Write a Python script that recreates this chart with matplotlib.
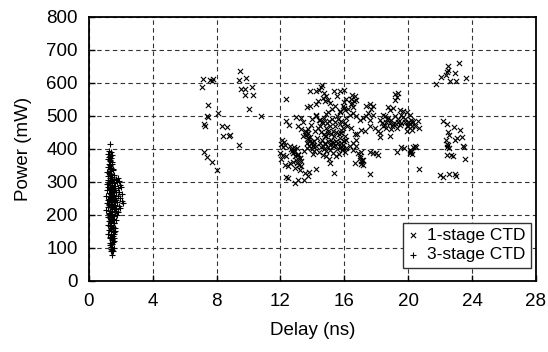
import matplotlib
matplotlib.use("Agg")
import matplotlib.pyplot as plt

# ==============================
# DATA
# ==============================

# 1-stage CTD : delay (ns), power (mW)
one_stage_x = [
    7.15, 7.10, 7.60, 7.70, 7.75, 7.46, 7.42, 7.46, 7.20, 7.27, 8.10, 7.20, 7.40, 7.73, 8.02,
    8.36, 8.67, 8.40, 8.78, 8.86, 9.42, 9.44, 9.40, 9.82, 9.55, 9.80, 10.20, 9.78, 10.28, 10.05,
    10.76,
    21.77, 22.04, 22.36, 22.50, 22.50, 22.46, 22.60, 22.96, 23.19, 23.02, 23.59,
    22.19, 22.46, 22.86, 22.50, 22.57, 23.23, 23.07, 23.40, 22.34, 22.40, 22.46, 22.50, 22.55,
    22.94, 23.44, 23.48, 22.40, 22.67, 22.82, 23.55, 21.98, 22.19, 22.57, 22.92, 23.02,
    12.33, 12.33, 12.54, 12.10, 12.20, 12.06, 12.29, 12.16, 12.00, 12.16, 12.37, 12.06,
    12.27, 12.58, 12.79, 12.50, 12.37, 12.45, 12.93, 13.10, 13.48, 13.77, 13.75,
    12.79, 13.08, 13.20, 13.04, 13.31, 13.20, 13.52, 12.89, 12.85, 13.06,
    14.20, 15.34, 17.60, 20.68,
    14.60, 14.54, 14.41, 14.25, 13.83, 14.73, 14.88, 14.98, 14.79, 14.67, 15.09,
    15.34, 15.71, 15.98, 15.52, 14.33, 14.25, 13.66, 13.83, 14.99, 14.88,
    14.25, 14.00, 14.20, 14.46, 13.00, 13.31, 13.41,
    13.10, 13.31, 13.52, 13.62, 13.73, 13.87, 13.41, 13.66,
    14.04, 14.25, 14.56, 14.71, 14.88, 15.09, 15.30, 15.61,
    14.46, 14.67, 14.88, 15.13, 15.30, 14.98, 14.77,
    15.44, 15.71, 15.92, 15.82, 16.03, 16.13, 15.71, 15.50,
    15.92, 16.13, 16.34, 16.55, 16.76, 16.65,
    14.88, 15.04, 15.13, 14.67, 14.39, 14.04,
    15.92, 16.03, 15.71, 16.34, 16.13, 16.55,
    16.51, 16.65, 16.40, 16.71, 16.51, 16.55, 16.13, 15.98, 16.82,
    16.86, 17.07, 16.97, 16.65, 17.07, 17.17,
    16.76, 16.97, 17.17, 17.38, 17.59, 17.80, 17.49,
    17.38, 17.59, 17.80, 17.70,
    17.59, 17.90, 18.11, 17.97, 18.11, 17.80, 17.59, 17.07, 17.28,
    18.22, 18.43, 18.53, 18.64, 18.85, 18.74, 18.95, 19.06,
    18.22, 18.26, 18.85, 18.43, 18.60,
    18.74, 18.85, 19.06, 19.16, 19.37, 19.27, 19.16,
    19.48, 19.69, 19.90, 20.10, 20.20, 19.98, 19.77, 19.56, 19.37, 19.69,
    19.27, 19.48, 19.90, 20.10, 20.31, 20.23, 20.27, 19.90,
    20.62, 20.68,
    19.58, 19.73, 19.31, 20.10, 20.20, 20.31, 20.41, 20.52, 20.14, 20.27,
    15.50, 15.30, 15.67, 14.67, 14.77, 14.98, 15.19, 15.30, 15.92, 16.03, 15.82,
    16.55, 16.76, 16.97, 17.10, 17.05, 17.20,
    12.65, 12.85, 13.10, 13.22, 13.30, 13.15, 12.85,
    13.70, 13.58, 13.85, 13.70, 13.95, 14.05,
    # denser core of the main cloud
    14.10, 14.30, 14.50, 14.62, 14.80, 14.95, 15.10, 15.22, 15.40, 15.55, 15.75, 15.88,
    14.15, 14.35, 14.55, 14.70, 14.85, 15.00, 15.18, 15.35, 15.48, 15.65, 15.80, 16.00,
    14.40, 14.58, 14.75, 14.92, 15.05, 15.25, 15.42, 15.60, 15.78, 16.05, 16.20, 16.40,
    13.50, 13.65, 13.80, 13.95, 14.10, 13.60, 13.75, 13.90, 12.70, 12.90, 13.00, 12.60,
    15.20, 15.40, 15.55, 15.75, 15.95, 16.25, 16.45, 16.60, 18.35, 18.55, 18.70, 19.00,
    19.15, 19.35, 19.55, 19.80, 20.00, 20.25, 20.40, 20.15, 18.90, 19.25,
]
one_stage_y = [
    613, 587, 610, 606, 612, 534, 501, 498, 476, 470, 508, 390, 376, 360, 337,
    468, 465, 440, 438, 443, 412, 635, 608, 616, 581, 581, 587, 564, 562, 521,
    501,
    597, 617, 623, 640, 652, 632, 606, 630, 660, 607, 614,
    486, 476, 465, 450, 443, 456, 434, 437, 428, 416, 407, 411, 402,
    428, 410, 407, 380, 382, 379, 370, 320, 316, 323, 325, 319,
    551, 486, 473, 428, 422, 416, 411, 406, 387, 382, 377, 369,
    352, 357, 361, 347, 314, 313, 298, 306, 306, 329, 317,
    387, 385, 372, 357, 347, 337, 326, 341, 407, 402,
    339, 327, 324, 339,
    595, 587, 579, 574, 575, 569, 559, 549, 544, 554, 539,
    574, 575, 579, 559, 546, 537, 526, 531, 512, 507,
    504, 491, 499, 488, 496, 493, 483,
    468, 460, 453, 443, 433, 423, 438, 418,
    410, 408, 406, 400, 393, 398, 408, 418,
    468, 478, 463, 470, 453, 448, 440,
    468, 475, 463, 448, 438, 428, 433, 423,
    411, 403, 408, 418, 428, 444,
    377, 369, 357, 382, 392, 384,
    529, 519, 511, 504, 494, 509,
    564, 559, 551, 549, 539, 527, 551, 541, 444,
    387, 392, 377, 357, 362, 365,
    499, 488, 494, 499, 487, 504, 509,
    529, 537, 529, 521,
    468, 463, 453, 387, 382, 389, 392, 458, 453,
    488, 504, 499, 483, 478, 493, 488, 476,
    448, 436, 438, 468, 463,
    527, 519, 524, 566, 569, 556, 549,
    519, 514, 511, 504, 488, 483, 483, 478, 483, 496,
    463, 473, 468, 476, 480, 468, 458, 453,
    486, 463,
    407, 402, 390, 397, 392, 407, 410, 407, 387, 385,
    377, 387, 385, 410, 418, 423, 428, 418, 402, 392, 418,
    397, 408, 372, 365, 355, 351,
    400, 396, 380, 372, 362, 352, 392,
    448, 442, 435, 428, 420, 412,
    425, 432, 418, 428, 415, 405, 413, 422, 412, 400, 405, 398,
    455, 462, 450, 445, 440, 455, 446, 440, 452, 444, 458, 423,
    488, 482, 495, 478, 485, 490, 480, 492, 486, 478, 470, 462,
    395, 402, 410, 400, 395, 450, 460, 472, 395, 378, 365, 410,
    520, 530, 500, 515, 525, 520, 535, 545, 478, 472, 490, 470,
    500, 490, 502, 490, 470, 485, 470, 395, 460, 475,
]

# 3-stage CTD : delay (ns), power (mW)
three_stage_x = [
    1.31, 1.25, 1.38, 1.22, 1.45, 1.30, 1.40, 1.18, 1.33, 1.48, 1.25, 1.36, 1.20, 1.42, 1.30,
    1.52, 1.15, 1.27, 1.38, 1.60, 1.22, 1.45, 1.33, 1.68, 1.80, 1.18, 1.55, 1.40, 1.26, 1.75,
    1.90, 1.12, 1.48, 1.35, 1.62, 1.95, 1.22, 1.42, 1.55, 1.85, 2.02, 1.15, 1.30, 1.50, 1.70,
    1.92, 1.25, 1.40, 1.60, 1.80, 2.10, 1.10, 1.33, 1.48, 1.65, 1.98, 1.20, 1.38, 1.55, 1.75,
    2.05, 1.15, 1.28, 1.45, 1.62, 1.88, 2.15, 1.22, 1.40, 1.55, 1.72, 1.95, 1.10, 1.33, 1.48,
    1.65, 1.85, 1.25, 1.40, 1.58, 1.78, 1.18, 1.35, 1.50, 1.68, 1.28, 1.42, 1.58, 1.20, 1.35,
    1.50, 1.65, 1.28, 1.42, 1.55, 1.22, 1.38, 1.50, 1.30, 1.45, 1.58, 1.35, 1.48, 1.40, 1.55,
    1.45, 1.38, 1.44, 1.60, 1.62,
    # denser core
    1.28, 1.36, 1.44, 1.52, 1.32, 1.40, 1.48, 1.56, 1.30, 1.38, 1.46, 1.54, 1.64, 1.34, 1.42,
    1.50, 1.58, 1.70, 1.26, 1.36, 1.46, 1.56, 1.68, 1.30, 1.40, 1.50, 1.60, 1.34, 1.44, 1.54,
    1.32, 1.42, 1.52, 1.36, 1.46, 1.40, 1.50, 1.24, 1.34, 1.44, 1.28, 1.38, 1.48, 1.32, 1.42,
]
three_stage_y = [
    414, 395, 392, 385, 383, 378, 372, 368, 365, 360, 355, 350, 345, 342, 338,
    335, 330, 327, 325, 322, 318, 315, 312, 310, 312, 306, 305, 302, 298, 300,
    302, 294, 292, 290, 288, 290, 285, 282, 280, 282, 284, 276, 274, 272, 270,
    268, 265, 262, 260, 258, 262, 256, 254, 252, 250, 250, 246, 243, 241, 240,
    242, 236, 234, 232, 230, 228, 235, 225, 223, 220, 218, 222, 215, 213, 210,
    208, 210, 204, 201, 198, 200, 194, 191, 188, 186, 180, 177, 175, 170, 166,
    163, 160, 155, 151, 148, 143, 140, 136, 130, 126, 122, 116, 112, 104, 100,
    95, 90, 78, 130, 150,
    375, 362, 355, 340, 332, 320, 310, 296, 286, 278, 268, 258, 276, 248, 238,
    228, 218, 246, 206, 196, 186, 176, 212, 168, 158, 150, 142, 134, 124, 118,
    108, 98, 92, 300, 286, 264, 250, 230, 212, 196, 248, 226, 204, 180, 160,
]

x_ticks = [0, 4, 8, 12, 16, 20, 24, 28]
y_ticks = [0, 100, 200, 300, 400, 500, 600, 700, 800]


# ==============================
# PLOT
# ==============================

plt.rcParams["font.family"] = ["Liberation Sans", "DejaVu Sans"]

fig = plt.figure(figsize=(5.48, 3.52), dpi=100)
ax = fig.add_axes([0.162, 0.202, 0.816, 0.750])

ax.scatter(one_stage_x, one_stage_y, marker="x", s=14, c="black",
           linewidths=0.8, label="1-stage CTD", zorder=3)
ax.scatter(three_stage_x, three_stage_y, marker="+", s=22, c="black",
           linewidths=0.8, label="3-stage CTD", zorder=3)

ax.set_xlim(0, 28)
ax.set_ylim(0, 800)
ax.set_xticks(x_ticks)
ax.set_yticks(y_ticks)
ax.tick_params(direction="in", length=4, width=1, labelsize=13.5, pad=8)
ax.tick_params(axis="x", pad=9)

ax.grid(True, color="#333333", linestyle=(0, (4, 3)), linewidth=0.8)
ax.set_axisbelow(True)
for spine in ax.spines.values():
    spine.set_linewidth(1.3)

ax.set_xlabel("Delay (ns)", fontsize=13.5, labelpad=8)
ax.set_ylabel("Power (mW)", fontsize=13.5, labelpad=10)

leg = ax.legend(loc="lower right", bbox_to_anchor=(0.988, 0.05), fontsize=12.5,
                frameon=True, fancybox=False, framealpha=1, edgecolor="#333333",
                handlelength=0.6, handletextpad=0.5, borderpad=0.3,
                labelspacing=0.25, borderaxespad=0)
leg.get_frame().set_linewidth(1.0)

plt.savefig("out.png", dpi=100)
plt.close()
